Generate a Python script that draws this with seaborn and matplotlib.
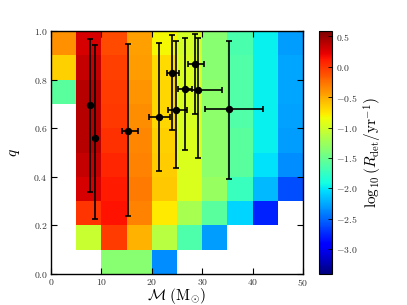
import numpy as np
import pandas as pd
import matplotlib
matplotlib.use("Agg")
import matplotlib.pyplot as plt
import seaborn as sns
from matplotlib.ticker import FixedLocator, FuncFormatter

nan = np.nan
# chirp-mass bin edges (Msun) and mass-ratio bin edges
mc_edges = [0, 5, 10, 15, 20, 25, 30, 35, 40, 45, 50]
q_edges = [0.0, 0.1, 0.2, 0.3, 0.4, 0.5, 0.6, 0.7, 0.8, 0.9, 1.0]
# log10 detection rate, rows = q bins (ascending), cols = Mc bins
rate_q00 = [nan, nan, -1.36, -1.36, -2.36, nan, nan, nan, nan, nan]
rate_q01 = [nan, -1.05, -0.02, -0.52, -1.12, -1.63, -2.30, nan, nan, nan]
rate_q02 = [nan, 0.00, 0.14, -0.32, -0.76, -1.20, -1.58, -2.07, -2.77, nan]
rate_q03 = [nan, 0.28, 0.11, -0.29, -0.62, -0.95, -1.28, -1.73, -2.18, -2.61]
rate_q04 = [nan, 0.35, 0.07, -0.32, -0.64, -0.95, -1.32, -1.58, -2.02, -2.36]
rate_q05 = [nan, 0.40, 0.02, -0.34, -0.66, -0.95, -1.32, -1.58, -1.97, -2.30]
rate_q06 = [nan, 0.40, -0.01, -0.37, -0.68, -0.96, -1.32, -1.62, -1.96, -2.27]
rate_q07 = [-1.58, 0.40, -0.02, -0.41, -0.68, -0.96, -1.33, -1.62, -1.96, -2.26]
rate_q08 = [-0.65, 0.35, -0.04, -0.43, -0.70, -0.96, -1.36, -1.62, -1.96, -2.26]
rate_q09 = [-0.39, 0.28, -0.09, -0.45, -0.82, -0.99, -1.36, -1.65, -1.97, -2.30]
rate_min, rate_max = -3.41, 0.59

# observed events: chirp mass and mass ratio with bounds
ev_mc = [7.8, 8.8, 15.2, 21.4, 24.1, 24.9, 26.5, 29.2, 28.6, 35.4]
ev_mc_lo = [7.75, 8.75, 14.05, 19.5, 23.0, 23.3, 25.1, 26.5, 27.1, 30.6]
ev_mc_hi = [7.85, 8.85, 17.3, 23.6, 25.4, 27.0, 28.0, 33.9, 30.3, 42.1]
ev_q = [0.695, 0.561, 0.587, 0.646, 0.829, 0.674, 0.760, 0.756, 0.866, 0.679]
ev_q_lo = [0.337, 0.226, 0.24, 0.424, 0.594, 0.438, 0.512, 0.479, 0.66, 0.393]
ev_q_hi = [0.967, 0.942, 0.948, 0.951, 0.984, 0.960, 0.971, 0.973, 0.989, 0.959]

x_ticks = [0, 10, 20, 30, 40, 50]
y_ticks = [0.0, 0.2, 0.4, 0.6, 0.8, 1.0]
cb_ticks = [0.5, 0.0, -0.5, -1.0, -1.5, -2.0, -2.5, -3.0]

plt.rcParams['mathtext.fontset'] = 'cm'
plt.rcParams['font.family'] = ['DejaVu Serif']

rates = np.array([rate_q00, rate_q01, rate_q02, rate_q03, rate_q04,
                  rate_q05, rate_q06, rate_q07, rate_q08, rate_q09])
df = pd.DataFrame(rates, index=q_edges[:-1], columns=mc_edges[:-1])

W, H = 407, 305
fig = plt.figure(figsize=(W / 100, H / 100), dpi=100)
ax = fig.add_axes([51 / W, (H - 274) / H, 252 / W, 243 / H])
cax = fig.add_axes([319 / W, (H - 274) / H, 13 / W, 243 / H])

sns.heatmap(df, ax=ax, cbar_ax=cax, cmap='jet', vmin=rate_min, vmax=rate_max,
            xticklabels=False, yticklabels=False)
ax.set_ylim(0, len(q_edges) - 1)
ax.set_xlim(0, len(mc_edges) - 1)

# scale from physical units to cell units
dx = mc_edges[1] - mc_edges[0]
dy = q_edges[1] - q_edges[0]
mc = np.array(ev_mc); q = np.array(ev_q)
xerr = np.vstack([mc - np.array(ev_mc_lo), np.array(ev_mc_hi) - mc]) / dx
yerr = np.vstack([q - np.array(ev_q_lo), np.array(ev_q_hi) - q]) / dy
ax.errorbar(mc / dx, q / dy, xerr=xerr, yerr=yerr, fmt='o', color='black',
            ms=4.3, elinewidth=1.2, capsize=2.2, capthick=1.2, zorder=5)

for s in ax.spines.values():
    s.set_visible(True)
    s.set_color('black')
    s.set_linewidth(1.0)

ax.xaxis.set_major_locator(FixedLocator(np.array(x_ticks) / dx))
ax.xaxis.set_major_formatter(FuncFormatter(lambda v, p: r'$%d$' % round(v * dx)))
ax.yaxis.set_major_locator(FixedLocator(np.array(y_ticks) / dy))
ax.yaxis.set_major_formatter(FuncFormatter(lambda v, p: r'$%.1f$' % (v * dy)))
ax.tick_params(direction='in', length=4, width=0.8, labelsize=7,
               top=True, right=True, colors='black', labelcolor='#333333', pad=2.5)
plt.setp(ax.get_xticklabels(), rotation=0)
plt.setp(ax.get_yticklabels(), rotation=0)

ax.set_xlabel(r'$\mathcal{M}\ (\mathrm{M}_{\odot})$', fontsize=11, labelpad=-1.5)
ax.set_ylabel(r'$q$', fontsize=11, labelpad=8)

cbar = ax.collections[0].colorbar
cbar.outline.set_linewidth(0.8)
cbar.outline.set_edgecolor('black')
cbar.set_ticks(cb_ticks)
cbar.ax.yaxis.set_major_formatter(FuncFormatter(lambda v, p: r'$%.1f$' % v))
cbar.ax.tick_params(labelsize=7, length=3, width=0.6, direction='in', pad=3,
                    labelcolor='#333333')
cbar.set_label(r'$\log_{10}(R_{\rm det}/{\rm yr}^{-1})$', fontsize=11, labelpad=3)

fig.savefig('out.png', dpi=100, facecolor='white')
